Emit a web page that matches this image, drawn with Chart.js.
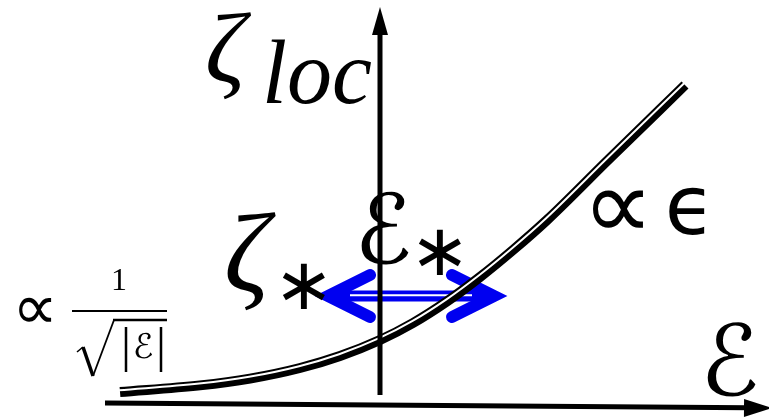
<!DOCTYPE html>
<html>
<head>
<meta charset="utf-8">
<script src="https://cdn.jsdelivr.net/npm/chart.js@4.4.1/dist/chart.umd.min.js"></script>
<style>
  html, body { margin: 0; padding: 0; background: #fff; }
  #wrap { width: 769px; height: 419px; }
</style>
</head>
<body>
<div id="wrap"><canvas id="sketch" width="769" height="419"></canvas></div>
<script>
// localisation length vs energy, schematic
const epsVals  = [-1.3, -0.9, -0.65, -0.4, -0.2, 0, 0.165, 0.335, 0.5, 0.665, 0.835, 1.135, 1.525];
const zetaVals = [0.135, 0.168, 0.202, 0.255, 0.315, 0.395, 0.48, 0.588, 0.71, 0.845, 0.995, 1.29, 1.67];

// axes (start, end)
const xAxisEps  = [-1.375, 1.84];
const xAxisZeta = [0.08, 0.056];
const yAxisEps  = [0, 0];
const yAxisZeta = [0.12, 1.95];

// crossover window around eps*
const starEps  = [-0.26, 0.57];
const starZeta = [0.615, 0.615];

// text: [text, eps, zeta, font, align]
const labels = [
  ['ζ', -0.875, 1.685, 'italic 100px "Liberation Serif"', 'left'],
  ['loc', -0.59, 1.58, 'italic 90px "Liberation Serif"', 'left'],
  ['ζ', -0.78, 0.64, 'italic 112px "Liberation Serif"', 'left'],
  ['∗', -0.38, 0.55, '72px "DejaVu Sans"', 'center'],
  ['ℰ', -0.13, 0.78, '96px "DejaVu Sans"', 'left'],
  ['∗', 0.3, 0.72, '72px "DejaVu Sans"', 'center'],
  ['∝', 1.19, 0.9, '100px "DejaVu Sans"', 'center'],
  ['ϵ', 1.55, 0.925, '82px "DejaVu Sans"', 'center'],
  ['ℰ', 1.6, 0.12, '98px "DejaVu Sans"', 'left'],
  ['∝', -1.725, 0.45, '64px "DejaVu Sans"', 'center'],
  ['1', -1.305, 0.645, '32px "Liberation Serif"', 'center'],
  ['ℰ', -1.185, 0.305, '34px "DejaVu Sans"', 'center']
];

const pts = (xs, ys) => xs.map((x, i) => ({ x: x, y: ys[i] }));

function arrowHead(ctx, x0, y0, x1, y1, len, half) {
  const a = Math.atan2(y1 - y0, x1 - x0);
  ctx.beginPath();
  ctx.moveTo(x1, y1);
  ctx.lineTo(x1 - len * Math.cos(a) + half * Math.sin(a), y1 - len * Math.sin(a) - half * Math.cos(a));
  ctx.lineTo(x1 - len * Math.cos(a) - half * Math.sin(a), y1 - len * Math.sin(a) + half * Math.cos(a));
  ctx.closePath();
  ctx.fill();
}

const decor = {
  id: 'decor',
  beforeDatasetDraw(chart, args) {
    // thin white stripe sits a bit above the middle of the thick curve
    if (args.index === 1) { chart.ctx.save(); chart.ctx.translate(-0.9, -1.8); }
  },
  afterDatasetDraw(chart, args) {
    if (args.index === 1) chart.ctx.restore();
  },
  beforeDatasetsDraw(chart) {
    const { ctx, scales: { x, y } } = chart;
    const px0 = x.getPixelForValue(starEps[0]), px1 = x.getPixelForValue(starEps[1]);
    const py = y.getPixelForValue(starZeta[0]);
    ctx.save();
    ctx.strokeStyle = '#0000f0';
    ctx.lineWidth = 12;
    ctx.lineCap = 'round';
    ctx.lineJoin = 'miter';
    ctx.beginPath();
    ctx.moveTo(px0 + 42, py - 21); ctx.lineTo(px0, py); ctx.lineTo(px0 + 42, py + 21);
    ctx.moveTo(px1 - 42, py - 21); ctx.lineTo(px1, py); ctx.lineTo(px1 - 42, py + 21);
    ctx.stroke();
    ctx.restore();
  },
  afterDatasetsDraw(chart) {
    const { ctx, scales: { x, y } } = chart;
    ctx.save();
    ctx.fillStyle = '#000';
    // axis arrowheads
    arrowHead(ctx, x.getPixelForValue(xAxisEps[0]), y.getPixelForValue(xAxisZeta[0]),
      x.getPixelForValue(xAxisEps[1]) + 24, y.getPixelForValue(xAxisZeta[1]) + 0.3, 28, 9);
    arrowHead(ctx, x.getPixelForValue(yAxisEps[0]), y.getPixelForValue(yAxisZeta[0]),
      x.getPixelForValue(yAxisEps[1]), y.getPixelForValue(yAxisZeta[1]) - 22, 28, 8);

    ctx.textBaseline = 'alphabetic';
    labels.forEach(([t, e, z, f, al]) => {
      ctx.font = f;
      ctx.textAlign = al;
      ctx.fillText(t, x.getPixelForValue(e), y.getPixelForValue(z));
    });

    // fraction bar and square root of |eps|
    ctx.strokeStyle = '#000';
    ctx.lineWidth = 2;
    ctx.beginPath();
    ctx.moveTo(72, 311); ctx.lineTo(167, 311);
    ctx.stroke();
    ctx.lineWidth = 1.6;
    ctx.beginPath();
    ctx.moveTo(77, 352); ctx.lineTo(83, 347);
    ctx.stroke();
    ctx.lineWidth = 3.5;
    ctx.beginPath();
    ctx.moveTo(83, 347); ctx.lineTo(93, 376);
    ctx.stroke();
    ctx.lineWidth = 1.8;
    ctx.beginPath();
    ctx.moveTo(93, 376); ctx.lineTo(114, 320);
    ctx.stroke();
    ctx.lineWidth = 2.5;
    ctx.beginPath();
    ctx.moveTo(113, 320); ctx.lineTo(167, 320);
    ctx.moveTo(126, 327); ctx.lineTo(126, 372);
    ctx.moveTo(161, 327); ctx.lineTo(161, 372);
    ctx.stroke();
    ctx.restore();
  }
};

new Chart(document.getElementById('sketch'), {
  type: 'line',
  data: {
    datasets: [
      { data: pts(yAxisEps, yAxisZeta), borderColor: '#000', borderWidth: 5 },
      { data: pts(epsVals, zetaVals), borderColor: '#fff', borderWidth: 2, cubicInterpolationMode: 'monotone' },
      { data: pts(epsVals, zetaVals), borderColor: '#000', borderWidth: 10, cubicInterpolationMode: 'monotone' },
      { data: pts(xAxisEps, xAxisZeta), borderColor: '#000', borderWidth: 5 },
      { data: pts([starEps[0] + 0.11, starEps[1] - 0.11], [starZeta[0] + 0.004, starZeta[1] + 0.004]), borderColor: '#fff', borderWidth: 2 },
      { data: pts([starEps[0] + 0.03, starEps[1] - 0.03], starZeta), borderColor: '#0000f0', borderWidth: 11 }
    ]
  },
  options: {
    responsive: false,
    animation: false,
    events: [],
    layout: { padding: 0 },
    elements: { point: { radius: 0 }, line: { borderCapStyle: 'butt' } },
    plugins: { legend: { display: false }, tooltip: { enabled: false } },
    scales: {
      x: { type: 'linear', min: -1.9, max: 1.945, display: false },
      y: { type: 'linear', min: 0, max: 2.095, display: false }
    }
  },
  plugins: [decor]
});
</script>
</body>
</html>
